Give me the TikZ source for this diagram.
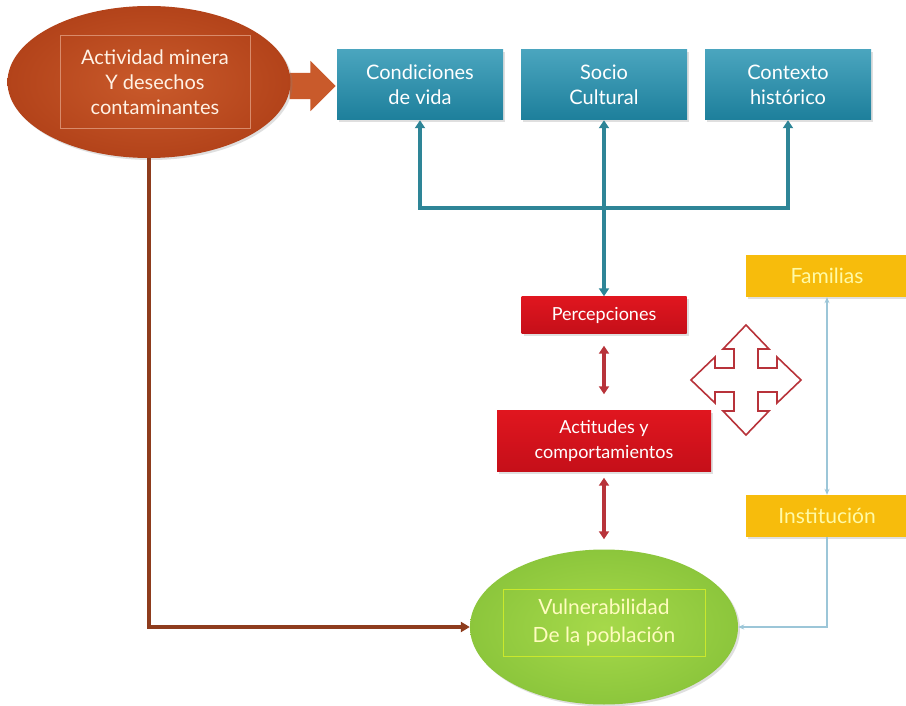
\documentclass[tikz,border=0pt]{standalone}
\usepackage{fontspec}
\setmainfont{Lato}
\usetikzlibrary{positioning, arrows.meta, shapes.arrows, shapes.geometric, shadows}

\definecolor{naranja}{HTML}{B3431A}
\definecolor{naranjaclaro}{HTML}{C95A2B}
\definecolor{azul}{HTML}{2A95B3}
\definecolor{azulosc}{HTML}{1D7F9B}
\definecolor{azulfl}{HTML}{2E8597}
\definecolor{rojo}{HTML}{E0161F}
\definecolor{rojoosc}{HTML}{C50F19}
\definecolor{rojofl}{HTML}{B8333A}
\definecolor{amarillo}{HTML}{F7BC0C}
\definecolor{verde}{HTML}{8CC63C}
\definecolor{verdeclaro}{HTML}{A6D94A}
\definecolor{marron}{HTML}{8E3C1D}
\definecolor{celeste}{HTML}{9CC6D8}

\begin{document}
\begin{tikzpicture}[x=1pt, y=-1pt, node distance=184pt, on grid,
    font=\fontsize{20}{25}\selectfont,
    sombra/.style={drop shadow={opacity=0.25, shadow xshift=2pt, shadow yshift=-2pt}},
    caja/.style={rectangle, align=center, inner sep=0pt},
    azulbox/.style={caja, sombra, top color=azul!85!white, bottom color=azulosc,
        text=white, minimum width=166pt, minimum height=70pt},
    rojobox/.style={caja, sombra, top color=rojo, bottom color=rojoosc, text=white,
        font=\fontsize{18}{25}\selectfont},
    amarillobox/.style={caja, sombra, fill=amarillo, text=yellow!35!white,
        minimum width=162pt, minimum height=42pt, font=\fontsize{21}{24}\selectfont},
    elipse/.style={ellipse, inner sep=0pt, sombra},
    marco/.style={caja, align=center, line width=1pt},
    flechagorda/.style={single arrow, fill=naranjaclaro, minimum height=46pt,
        inner sep=13pt, single arrow head extend=12pt},
    azulfl/.style={draw=azulfl, line width=4pt, {Triangle[length=8pt, width=10pt]}-{Triangle[length=8pt, width=10pt]}},
    rojofl/.style={draw=rojofl, line width=3.5pt, {Triangle[length=8pt, width=10pt]}-{Triangle[length=8pt, width=10pt]}},
    marronfl/.style={draw=marron, line width=3.5pt, -{Triangle[length=9pt, width=10pt]}},
    celestefl/.style={draw=celeste, line width=1.2pt, -{Stealth[length=6pt, width=5pt]}}]
\useasboundingbox[fill=white] (0,0) rectangle (906,706);

% fuente del problema
\node[flechagorda] (flecha) at (306,86) {};
\node[elipse, inner color=naranjaclaro, outer color=naranja,
    minimum width=283pt, minimum height=152pt] (mina) at (149,82) {};
\node[marco, draw=naranjaclaro!70!white, text=orange!10!white,
    minimum width=190pt, minimum height=93pt] (minatxt) at (155,82)
    {Actividad minera\\Y desechos\\contaminantes};

% contextos
\node[azulbox] (cond) at (420,85) {Condiciones\\de vida};
\node[azulbox] (socio) [right=of cond] {Socio\\Cultural};
\node[azulbox] (ctx) [right=of socio] {Contexto\\histórico};

% eje central
\node[rojobox, minimum width=165pt, minimum height=37pt] (percep) [below=230pt of socio] {Percepciones};
\node[rojobox, minimum width=214pt, minimum height=61pt] (act) [below=126pt of percep] {Actitudes y\\comportamientos};
\node[elipse, inner color=verdeclaro, outer color=verde,
    minimum width=268pt, minimum height=155pt] (vul) [below=186pt of act] {};
\node[marco, draw=verdeclaro!60!yellow, text=yellow!25!white,
    minimum width=202pt, minimum height=67pt, font=\fontsize{21}{28}\selectfont] (vultxt) at (604,623)
    {Vulnerabilidad\\De la población};

% actores
\node[amarillobox] (fam) at (827,276) {Familias};
\node[amarillobox] (inst) [below=240pt of fam] {Institución};

% cruz de flechas
\draw[draw=rojofl, line width=1.6pt, fill=white, shift={(746,380)}]
    (0,-55) -- (23,-31) -- (12,-31) -- (12,-12) -- (31,-12) -- (31,-23) -- (55,0)
    -- (31,23) -- (31,12) -- (12,12) -- (12,31) -- (23,31) -- (0,55)
    -- (-23,31) -- (-12,31) -- (-12,12) -- (-31,12) -- (-31,23) -- (-55,0)
    -- (-31,-23) -- (-31,-12) -- (-12,-12) -- (-12,-31) -- (-23,-31) -- cycle;

% conexiones
\draw[azulfl] (cond.south) -- ++(0,88) -| (ctx.south);
\draw[azulfl] (socio.south) -- (percep.north);
\draw[rojofl, shorten <=12pt, shorten >=16pt] (percep.south) -- (act.north);
\draw[rojofl, shorten <=6pt, shorten >=10pt] (act.south) -- (vul.north);
\draw[marronfl] (mina.south) |- (vul.west);
\draw[celestefl, {Stealth[length=6pt, width=5pt]}-{Stealth[length=6pt, width=5pt]}] (fam.south) -- (inst.north);
\draw[celestefl] (inst.south) |- (vul.east);

\end{tikzpicture}
\end{document}
